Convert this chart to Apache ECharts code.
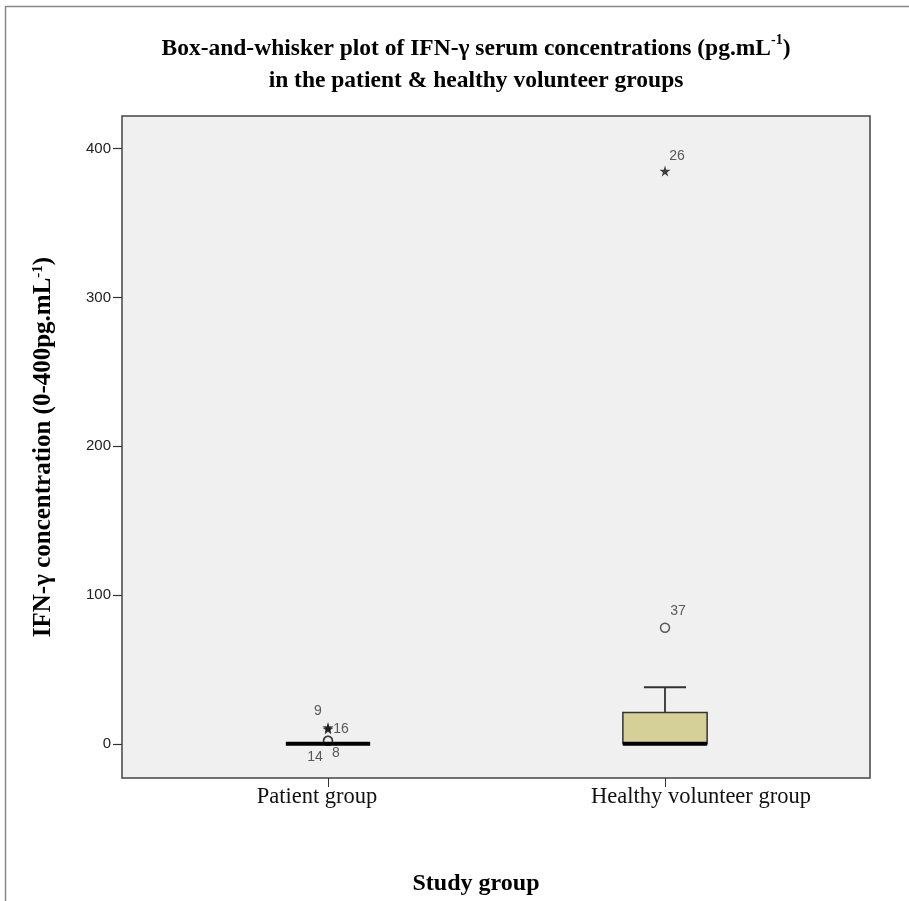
<!DOCTYPE html>
<html><head><meta charset="utf-8">
<script src="https://cdn.jsdelivr.net/npm/echarts@6/dist/echarts.min.js"></script>
<style>html,body{margin:0;padding:0;background:#fff}#c{width:909px;height:901px}</style>
</head><body><div id="c"></div>
<script>
// ---- data ----
const categories = ['Patient group', 'Healthy volunteer group'];
const whiskerLow = [0, 0];
const quartile1 = [0, 0];
const medians = [0, 0];
const quartile3 = [0, 21];
const whiskerHigh = [0, 38];
const extremeGroup = [0, 0, 1];
const extremeValues = [11, 10, 385];
const extremeIds = ['9', '16', '26'];
const outlierGroup = [0, 0, 1];
const outlierValues = [2, 2, 78];
const outlierIds = ['8', '14', '37'];
const yTicks = [0, 100, 200, 300, 400];

// ---- styling ----
const serif = "'Liberation Serif', 'Times New Roman', serif";
const sans = "'Liberation Sans', Arial, sans-serif";
const labelOffsets = { '9': [-10, -16], '16': [13, 0], '26': [12, -15], '8': [8, 12], '14': [-13, 16], '37': [13, -17] };
const yMin = -23, yMax = 422;

const boxData = categories.map((c, i) => [i, whiskerLow[i], quartile1[i], medians[i], quartile3[i], whiskerHigh[i]]);
const mkPoints = (grp, vals, ids) => vals.map((v, i) => ({
  value: [grp[i], v],
  label: { show: true, position: 'inside', offset: labelOffsets[ids[i]], formatter: ids[i],
           color: '#333', fontFamily: sans, fontSize: 14 }
}));

const starPath = 'path://M50,0 L61,35 L98,35 L68,57 L79,91 L50,70 L21,91 L32,57 L2,35 L39,35 Z';

const supStyle = (size, lh) => ({ fontFamily: serif, fontWeight: 'bold', fontSize: size, color: '#000', verticalAlign: 'top', lineHeight: lh });

const chart = echarts.init(document.getElementById('c'), null, { renderer: 'canvas' });
chart.setOption({
  animation: false,
  backgroundColor: '#fff',
  graphic: [{ type: 'rect', shape: { x: 5.5, y: 6.5, width: 1000, height: 1000 }, style: { fill: 'none', stroke: '#888', lineWidth: 1.5 }, z: -10 }],
  title: [{
    text: 'Box-and-whisker plot of IFN-γ serum concentrations (pg.mL{sup|-1})\nin the patient & healthy volunteer groups',
    left: 471, top: 28, textAlign: 'center',
    textStyle: { fontFamily: serif, fontWeight: 'bold', fontSize: 23.5, color: '#000', lineHeight: 32,
      rich: { sup: supStyle(14, 22) } }
  }, {
    text: 'Study group', left: 471, top: 867, textAlign: 'center',
    textStyle: { fontFamily: serif, fontWeight: 'bold', fontSize: 24, color: '#000' }
  }],
  grid: [
    { left: 122, top: 116, width: 748, height: 662, show: true, backgroundColor: '#f0f0f0', borderColor: '#444', borderWidth: 1.5 },
    { left: 159.5, top: 116, width: 674, height: 662 }
  ],
  xAxis: [
    { type: 'value', gridIndex: 0, show: false },
    { type: 'category', gridIndex: 1, data: categories,
      axisLine: { show: false, onZero: false },
      axisTick: { show: true, alignWithLabel: true, length: 9, lineStyle: { color: '#333', width: 1 } },
      axisLabel: { fontFamily: serif, fontSize: 22.5, color: '#111', margin: 8,
        formatter: (v) => (v === categories[0] ? '{p|' + v + '}' : '{h|' + v + '}'),
        rich: {
          p: { fontFamily: serif, fontSize: 22.5, color: '#111', padding: [0, 22, 0, 0] },
          h: { fontFamily: serif, fontSize: 22.5, color: '#111', padding: [0, 0, 0, 72] }
        } } }
  ],
  yAxis: [
    { type: 'value', gridIndex: 0, min: yMin, max: yMax,
      name: 'IFN-γ concentration (0-400pg.mL{sup|-1})', nameLocation: 'middle', nameGap: 66, nameRotate: 90,
      nameTextStyle: { fontFamily: serif, fontWeight: 'bold', fontSize: 25, color: '#000', rich: { sup: supStyle(15, 24) } },
      axisLine: { show: false },
      splitLine: { show: false },
      axisTick: { show: true, customValues: yTicks, length: 9, lineStyle: { color: '#333', width: 1.2 } },
      axisLabel: { customValues: yTicks, fontFamily: sans, fontSize: 15, color: '#222', margin: 11 } },
    { type: 'value', gridIndex: 1, min: yMin, max: yMax, show: false, splitLine: { show: false } }
  ],
  series: [
    {
      type: 'custom', xAxisIndex: 1, yAxisIndex: 1, data: boxData,
      encode: { x: 0, y: [1, 2, 3, 4, 5] },
      renderItem: (params, api) => {
        const cat = api.value(0);
        const x = api.coord([cat, 0])[0];
        const w = api.size([1, 0])[0] * 0.25;
        const Y = (k) => api.coord([cat, api.value(k)])[1];
        const yLo = Y(1), yQ1 = Y(2), yMed = Y(3), yQ3 = Y(4), yHi = Y(5);
        const st = { stroke: '#333', lineWidth: 1.8 };
        const ch = [];
        if (yHi < yQ3) {
          ch.push({ type: 'line', shape: { x1: x, y1: yQ3, x2: x, y2: yHi }, style: st });
          ch.push({ type: 'line', shape: { x1: x - w / 4, y1: yHi, x2: x + w / 4, y2: yHi }, style: st });
        }
        if (yLo > yQ1) {
          ch.push({ type: 'line', shape: { x1: x, y1: yQ1, x2: x, y2: yLo }, style: st });
          ch.push({ type: 'line', shape: { x1: x - w / 4, y1: yLo, x2: x + w / 4, y2: yLo }, style: st });
        }
        ch.push({ type: 'rect', shape: { x: x - w / 2, y: yQ3, width: w, height: yQ1 - yQ3 },
                  style: { fill: '#d4d098', stroke: '#333', lineWidth: 1.5 } });
        ch.push({ type: 'line', shape: { x1: x - w / 2, y1: yMed, x2: x + w / 2, y2: yMed },
                  style: { stroke: '#000', lineWidth: 4 } });
        return { type: 'group', children: ch };
      },
      z: 2
    },
    {
      type: 'scatter', xAxisIndex: 1, yAxisIndex: 1, symbol: 'circle', symbolSize: 9,
      itemStyle: { color: 'rgba(0,0,0,0)', borderColor: '#333', borderWidth: 1.5 },
      data: mkPoints(outlierGroup, outlierValues, outlierIds), z: 1
    },
    {
      type: 'scatter', xAxisIndex: 1, yAxisIndex: 1, symbol: starPath, symbolSize: 11,
      itemStyle: { color: '#111' },
      data: mkPoints(extremeGroup, extremeValues, extremeIds), z: 4
    }
  ]
});
</script></body></html>
